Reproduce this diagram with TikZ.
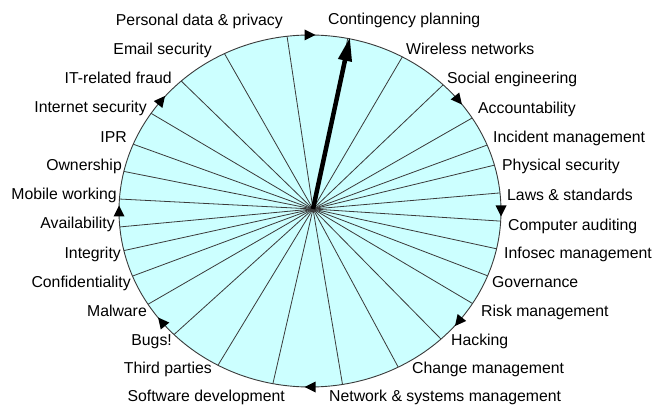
\documentclass[tikz,border=0pt]{standalone}
\usepackage{fontspec}
\setmainfont{Liberation Sans}
\usetikzlibrary{arrows.meta}
\definecolor{wheelfill}{HTML}{CCFFFF}
\definecolor{rimgrey}{HTML}{3A3A3A}

\begin{document}
\begin{tikzpicture}[
      x=1pt,
      y=1pt,
      topic/.style={
        inner sep=0pt,
        font=\fontsize{15.8}{18}\selectfont,
        text height=11pt,
        text depth=0pt
      },
      spoke/.style={
        rimgrey,
        line width=0.8pt
      }
    ]
      \useasboundingbox (0,0) rectangle (654,405);

      \coordinate (wc) at (310,194);
      \coordinate (hub) at (313,196);
      \coordinate (tip) at (350,368);

      \filldraw[fill=wheelfill, draw=rimgrey, line width=0.9pt] (wc) ellipse [x radius=191, y radius=176];

      % sector boundaries
      \foreach \a in {78.6,61.1,45.8,31.9,22,15.1,5.9,-3.3,-12.4,-21.6,-31.7,-46.7,-62.5,-80.2,
                      -101.2,-118.8,-135.4,-148,-158.3,-167,-174.8,176.1,167,157.7,146.3,132.4,116.6,96.9}
        \draw[spoke] (hub) -- ([shift={(\a:191 and 176)}]wc);

      % direction marks on the rim
      \foreach \a in {90,39,0,-39,-90,-141,180,141}
        \fill[shift={(wc)}, shift={(\a:191 and 176)}, rotate=\a-90] (5.5,0) -- (-5.5,5.5) -- (-5.5,-5.5) -- cycle;

      \draw[line width=4.5pt, -{Triangle[length=24pt,width=13pt]}] (hub) -- (tip);

      \node[topic, anchor=west] (r1) at (328,386) {Contingency planning};
      \node[topic, anchor=west] (r2) at (406,356) {Wireless networks};
      \node[topic, anchor=west] (r3) at (447,327) {Social engineering};
      \node[topic, anchor=west] (r4) at (478,297) {Accountability};
      \node[topic, anchor=west] (r5) at (493,268) {Incident management};
      \node[topic, anchor=west] (r6) at (502,240) {Physical security};
      \node[topic, anchor=west] (r7) at (507,210) {Laws \& standards};
      \node[topic, anchor=west] (r8) at (508,180) {Computer auditing};
      \node[topic, anchor=west] (r9) at (504,152) {Infosec management};
      \node[topic, anchor=west] (r10) at (492,123) {Governance};
      \node[topic, anchor=west] (r11) at (481,94) {Risk management};
      \node[topic, anchor=west] (r12) at (451,65) {Hacking};
      \node[topic, anchor=west] (r13) at (412,37) {Change management};
      \node[topic, anchor=west] (r14) at (329,9.5) {Network \& systems management};

      \node[topic, anchor=east] (l1) at (283,385) {Personal data \& privacy};
      \node[topic, anchor=east] (l2) at (212,356) {Email security};
      \node[topic, anchor=east] (l3) at (172,327) {IT-related fraud};
      \node[topic, anchor=east] (l4) at (147,298) {Internet security};
      \node[topic, anchor=east] (l5) at (127,268) {IPR};
      \node[topic, anchor=east] (l6) at (122,240) {Ownership};
      \node[topic, anchor=east] (l7) at (117,211) {Mobile working};
      \node[topic, anchor=east] (l8) at (115,182) {Availability};
      \node[topic, anchor=east] (l9) at (121,152) {Integrity};
      \node[topic, anchor=east] (l10) at (131,123) {Confidentiality};
      \node[topic, anchor=east] (l11) at (147,94) {Malware};
      \node[topic, anchor=east] (l12) at (172,65) {Bugs!};
      \node[topic, anchor=east] (l13) at (212,37) {Third parties};
      \node[topic, anchor=east] (l14) at (285,9.5) {Software development};

    \end{tikzpicture}
\end{document}
